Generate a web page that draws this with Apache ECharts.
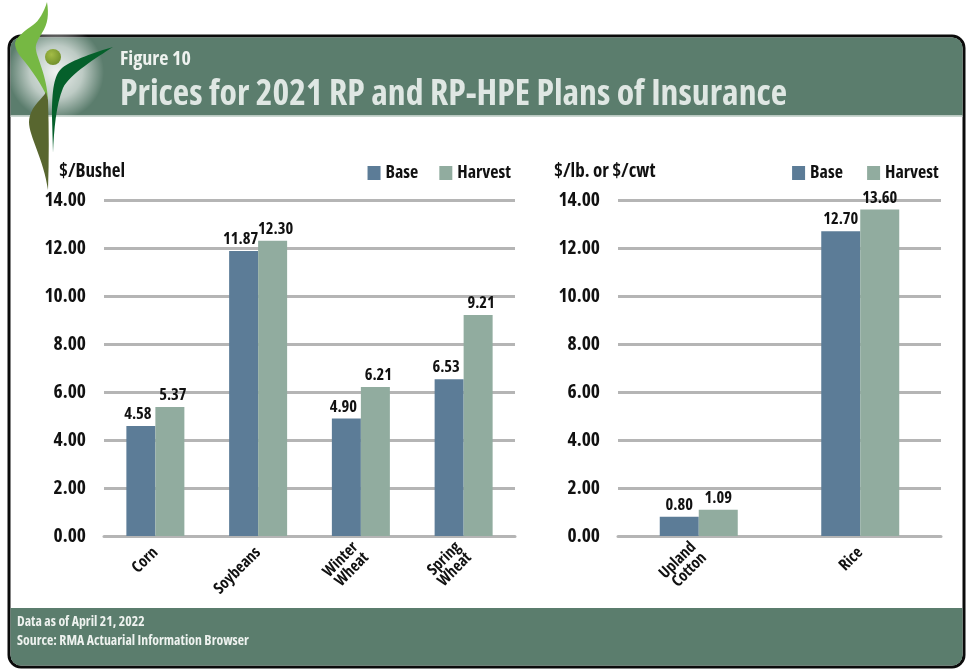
<!DOCTYPE html>
<html>
<head>
<meta charset="utf-8">
<style>
html,body{margin:0;padding:0;background:#fff}
#chart{width:966px;height:669px}
</style>
<script src="https://cdn.jsdelivr.net/npm/echarts@6/dist/echarts.min.js"></script>
</head>
<body>
<div id="chart"></div>
<script>
// Crop prices for the 2021 RP and RP-HPE plans
const bushelCategories = ['Corn', 'Soybeans', 'Winter\nWheat', 'Spring\nWheat'];
const bushelBase = [4.58, 11.87, 4.90, 6.53];
const bushelHarvest = [5.37, 12.30, 6.21, 9.21];
const cwtCategories = ['Upland\nCotton', 'Rice'];
const cwtBase = [0.80, 12.70];
const cwtHarvest = [1.09, 13.60];

const FONT = '"Open Sans",sans-serif';
const WEIGHT = 'bold condensed';
const BASE_COLOR = '#5c7c97';
const HARVEST_COLOR = '#91ac9f';
const PANEL = '#5b7d6d';

// Emblem outlines, registered as reusable shapes
const leafPaths = {
  leafLight: 'M47 2 C49 14 48 24 42 33 C38 40 35 44 36 50 C37 58 47 76 48 100 C46 92 36 76 25 62 C20 56 15 50 15 43 C16 37 26 30 33 25 C39 21 44 12 47 2 Z',
  leafOlive: 'M46 92 C42 100 30 106 29 122 C29 136 44 160 48 190 C49 160 49 130 48 100 Z',
  leafDark: 'M113 47 C96 52 72 60 62 68 C54 75 52 90 52 117 L53 153 C54 130 56 105 63 88 C70 74 96 58 113 47 Z'
};
Object.keys(leafPaths).forEach(function (key) {
  echarts.graphic.registerShape(key, echarts.graphic.extendPath(leafPaths[key], {}));
});

const chart = echarts.init(document.getElementById('chart'), null, {renderer: 'canvas'});

function barSeries(name, values, color, axisIndex, width, labelShift) {
  return {
    name, type: 'bar', data: values, xAxisIndex: axisIndex, yAxisIndex: axisIndex,
    barWidth: width, barGap: 0,
    itemStyle: {color},
    z: 3,
    label: {
      show: true, position: 'top', distance: 3, offset: [labelShift, 0],
      formatter: p => p.value.toFixed(2),
      fontFamily: FONT, fontWeight: WEIGHT, fontSize: 16.5, color: '#111'
    }
  };
}
function xAxis(cats, grid) {
  return {
    type: 'category', data: cats, gridIndex: grid,
    axisLine: {show: true, lineStyle: {color: '#b5b5b5', width: 3}},
    axisTick: {show: false},
    axisLabel: {
      rotate: 45, margin: 14, interval: 0, lineHeight: 15,
      fontFamily: FONT, fontWeight: WEIGHT, fontSize: 16, color: '#111'
    }
  };
}
function yAxis(grid) {
  return {
    type: 'value', gridIndex: grid, min: 0, max: 14, interval: 2,
    axisLine: {show: false}, axisTick: {show: false},
    splitLine: {lineStyle: {color: '#b5b5b5', width: 3}},
    axisLabel: {
      margin: 18, formatter: v => v.toFixed(2),
      fontFamily: FONT, fontWeight: WEIGHT, fontSize: 19.5, color: '#111'
    }
  };
}
function legendAt(right, name1, name2) {
  return {
    top: 164, right, padding: 0, itemWidth: 13, itemHeight: 14, itemGap: 21,
    icon: 'rect', data: [name1, name2],
    textStyle: {fontFamily: FONT, fontWeight: WEIGHT, fontSize: 18, color: '#111'}
  };
}
function txt(x, y, text, size, fill) {
  return {type: 'text', x, y, silent: true, z: 20,
    style: {text, fill, fontFamily: FONT, fontSize: size, fontWeight: WEIGHT, textVerticalAlign: 'middle'}};
}
function leaf(type, fill) {
  return {type, z: 10, silent: true, shape: {}, style: {fill}};
}

const graphics = [
  // Frame and colour bands
  {type: 'rect', z: -5, shape: {x: 9, y: 36, width: 955, height: 631, r: 12},
    style: {fill: '#fff', stroke: '#0b0b0b', lineWidth: 3}},
  {type: 'rect', z: -4, shape: {x: 10.5, y: 37.5, width: 952, height: 78, r: [10, 10, 0, 0]},
    style: {fill: PANEL}},
  {type: 'rect', z: -4, shape: {x: 10.5, y: 115.5, width: 952, height: 1.5}, style: {fill: '#c9d6d0'}},
  {type: 'rect', z: -4, shape: {x: 10.5, y: 608, width: 952, height: 57.5, r: [0, 0, 10, 10]},
    style: {fill: PANEL}},
  // Glow behind the emblem
  {type: 'circle', z: -3, shape: {cx: 56, cy: 72, r: 48},
    style: {fill: new echarts.graphic.RadialGradient(0.5, 0.5, 0.5, [
      {offset: 0, color: 'rgba(255,255,255,0.9)'},
      {offset: 0.55, color: 'rgba(255,255,255,0.6)'},
      {offset: 1, color: 'rgba(255,255,255,0)'}])}},
  {type: 'rect', z: -2, shape: {x: 11, y: 117, width: 110, height: 30}, style: {fill: '#fff'}},
  // Emblem
  leaf('leafLight', '#76b843'),
  leaf('leafOlive', '#58662f'),
  leaf('leafDark', '#05602b'),
  {type: 'circle', z: 10, shape: {cx: 53, cy: 57, r: 8},
    style: {fill: new echarts.graphic.RadialGradient(0.4, 0.35, 0.7, [
      {offset: 0, color: '#a4bc46'}, {offset: 1, color: '#6f8f2a'}])}},
  // Heading and footnotes
  txt(120, 59, 'Figure 10', 20, '#eef2ef'),
  txt(120, 95, 'Prices for 2021 RP and RP-HPE Plans of Insurance', 35.7, '#dfe7e3'),
  txt(17, 622, 'Data as of April 21, 2022', 13.8, '#eef2ef'),
  txt(17, 641, 'Source: RMA Actuarial Information Browser', 13.8, '#eef2ef'),
  // Units above each panel
  txt(59, 172, '$/Bushel', 19, '#111'),
  txt(554, 172, '$/lb. or $/cwt', 19, '#111')
];

chart.setOption({
  backgroundColor: '#fff',
  animation: false,
  grid: [
    {left: 104, right: 966 - 515, top: 200, height: 336},
    {left: 618, right: 966 - 941, top: 200, height: 336}
  ],
  legend: [legendAt(455, 'Base', 'Harvest'), legendAt(24, 'Base ', 'Harvest ')],
  xAxis: [xAxis(bushelCategories, 0), xAxis(cwtCategories, 1)],
  yAxis: [yAxis(0), yAxis(1)],
  series: [
    barSeries('Base', bushelBase, BASE_COLOR, 0, 29, -3),
    barSeries('Harvest', bushelHarvest, HARVEST_COLOR, 0, 29, 3),
    barSeries('Base ', cwtBase, BASE_COLOR, 1, 39, 0),
    barSeries('Harvest ', cwtHarvest, HARVEST_COLOR, 1, 39, 0)
  ],
  graphic: graphics
});
</script>
</body>
</html>
